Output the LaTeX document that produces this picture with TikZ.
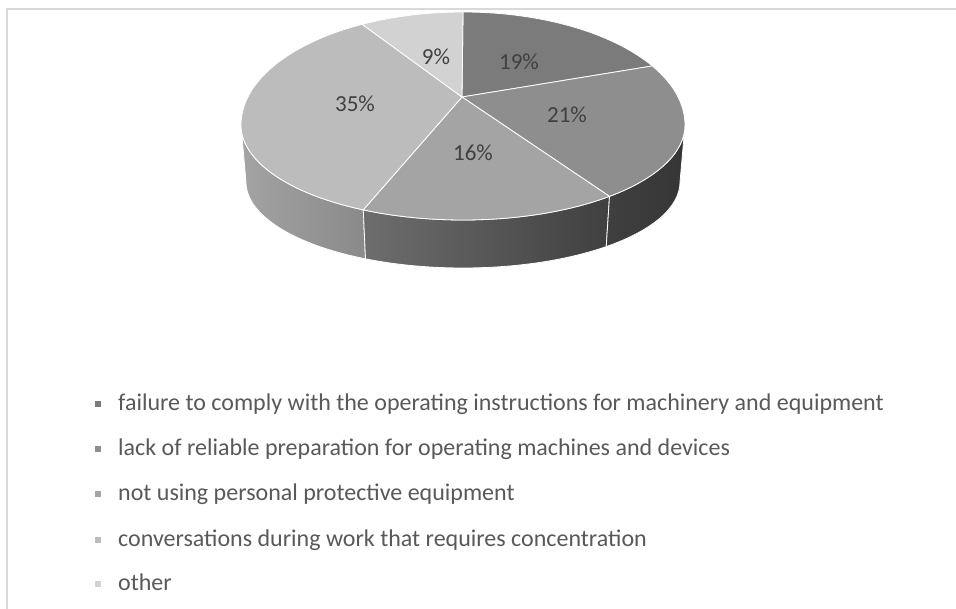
\documentclass[tikz,border=0pt]{standalone}
\usepackage{fontspec}
\setmainfont{Carlito}
\definecolor{sA}{HTML}{7B7B7B}
\definecolor{sB}{HTML}{8E8E8E}
\definecolor{sC}{HTML}{A4A4A4}
\definecolor{sD}{HTML}{BCBCBC}
\definecolor{sE}{HTML}{D2D2D2}
\definecolor{lbl}{HTML}{404040}
\definecolor{legtxt}{HTML}{595959}
\definecolor{frame}{HTML}{D9D9D9}
\begin{document}
\begin{tikzpicture}[x=1pt,y=1pt,
  slice/.style={draw=white,line width=0.8pt,line join=round},
  pct/.style={text=lbl,font=\fontsize{23}{27}\selectfont,inner sep=0pt},
  legmark/.style={minimum size=6.5pt,inner sep=0pt},
  legtext/.style={text=legtxt,font=\fontsize{24}{28}\selectfont,anchor=base west,inner sep=0pt}]
\useasboundingbox (0,0) rectangle (956,-609);
\fill[white] (0,0) rectangle (956,-609);
% frame
\draw[frame,line width=1.5pt] (7,-612) -- (7,-9) -- (960,-9);
% geometry
\def\cx{463}
\def\tcy{-125}
\def\bcy{-182}
\def\rx{222}
\def\ryu{113}
\def\ryd{95}
\def\brx{217}
\def\bry{86}
\coordinate (V) at (462,-97);
% sides
\draw[slice,left color=black!36,right color=black!46]
  ({\cx+\rx*cos(180)},{\tcy+\ryd*sin(180)}) arc[start angle=180,end angle=243.3,x radius=\rx,y radius=\ryd]
  -- ({\cx+\brx*cos(243.3)},{\bcy+\bry*sin(243.3)}) arc[start angle=243.3,end angle=180,x radius=\brx,y radius=\bry] -- cycle;
\draw[slice,left color=black!57,right color=black!75]
  ({\cx+\rx*cos(243.3)},{\tcy+\ryd*sin(243.3)}) arc[start angle=243.3,end angle=311.3,x radius=\rx,y radius=\ryd]
  -- ({\cx+\brx*cos(311.3)},{\bcy+\bry*sin(311.3)}) arc[start angle=311.3,end angle=243.3,x radius=\brx,y radius=\bry] -- cycle;
\draw[slice,left color=black!75,right color=black!79]
  ({\cx+\rx*cos(311.3)},{\tcy+\ryd*sin(311.3)}) arc[start angle=311.3,end angle=360,x radius=\rx,y radius=\ryd]
  -- ({\cx+\brx},{\bcy}) arc[start angle=360,end angle=311.3,x radius=\brx,y radius=\bry] -- cycle;
% top slices
\draw[slice,fill=sA] (V) -- ({\cx},{\tcy+\ryu}) arc[start angle=90,end angle=31.5,x radius=\rx,y radius=\ryu] -- cycle;
\draw[slice,fill=sB] (V) -- ({\cx+\rx*cos(31.5)},{\tcy+\ryu*sin(31.5)}) arc[start angle=31.5,end angle=0,x radius=\rx,y radius=\ryu]
  arc[start angle=0,end angle=-48.7,x radius=\rx,y radius=\ryd] -- cycle;
\draw[slice,fill=sC] (V) -- ({\cx+\rx*cos(-48.7)},{\tcy+\ryd*sin(-48.7)}) arc[start angle=-48.7,end angle=-116.7,x radius=\rx,y radius=\ryd] -- cycle;
\draw[slice,fill=sD] (V) -- ({\cx+\rx*cos(-116.7)},{\tcy+\ryd*sin(-116.7)}) arc[start angle=-116.7,end angle=-180,x radius=\rx,y radius=\ryd]
  arc[start angle=180,end angle=117,x radius=\rx,y radius=\ryu] -- cycle;
\draw[slice,fill=sE] (V) -- ({\cx+\rx*cos(117)},{\tcy+\ryu*sin(117)}) arc[start angle=117,end angle=90,x radius=\rx,y radius=\ryu] -- cycle;
% labels
\node[pct] (p9) at (436,-57) {9\%};
\node[pct] (p19) at (519,-62) {19\%};
\node[pct] (p35) at (355,-104) {35\%};
\node[pct] (p21) at (567,-115) {21\%};
\node[pct] (p16) at (473,-153) {16\%};
% legend
\node[legmark,fill=sA] (m1) at (98,-404) {};
\node[legtext] (t1) at (118,-410) {failure to comply with the operating instructions for machinery and equipment};
\node[legmark,fill=sB] (m2) at (98,-449) {};
\node[legtext] (t2) at (118,-455) {lack of reliable preparation for operating machines and devices};
\node[legmark,fill=sC] (m3) at (98,-494) {};
\node[legtext] (t3) at (118,-500) {not using personal protective equipment};
\node[legmark,fill=sD] (m4) at (98,-540) {};
\node[legtext] (t4) at (118,-546) {conversations during work that requires concentration};
\node[legmark,fill=sE] (m5) at (98,-584) {};
\node[legtext] (t5) at (118,-590) {other};
\end{tikzpicture}
\end{document}
